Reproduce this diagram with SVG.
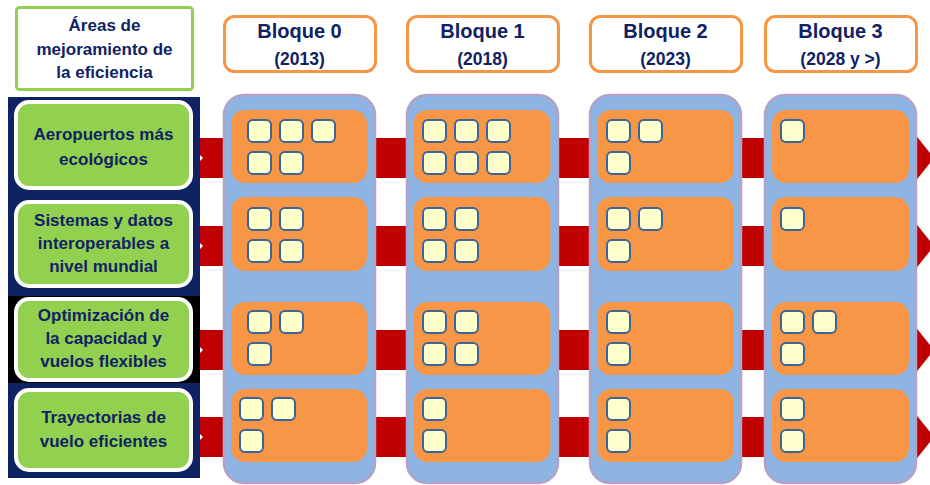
<svg xmlns="http://www.w3.org/2000/svg" xmlns:xlink="http://www.w3.org/1999/xlink" width="930" height="485" viewBox="0 0 930 485">
<style>
text{font-family:"Liberation Sans",Arial,sans-serif;font-weight:bold;fill:#112263;text-anchor:middle}
.lbl{font-size:17px}
.bh1{font-size:20px}
.bh2{font-size:17.5px}
.hdr{fill:#fff;stroke:#F79646;stroke-width:3}
.green{fill:#92D050;stroke:#fff;stroke-width:4}
.col{fill:#8EB4E3;stroke:#B3A2C7;stroke-width:2.5}
.cell{fill:#F79646}
.sq{fill:#FFFFCC;stroke:#3C6494;stroke-width:2}
.arrow{fill:#C00000}
</style>
<defs>
<rect id="sq" class="sq" width="23" height="22" rx="5"/>
</defs>
<rect width="930" height="485" fill="#fff"/>

<g id="connectors">
<polygon class="arrow" points="183,138 914,138 914,133 934,158 914,183 914,178 183,178 203,158"/>
<polygon class="arrow" points="183,226 914,226 914,221 934,246 914,271 914,266 183,266 203,246"/>
<polygon class="arrow" points="183,330 914,330 914,325 934,350 914,375 914,370 183,370 203,350"/>
<polygon class="arrow" points="183,417 914,417 914,412 934,437 914,462 914,457 183,457 203,437"/>
</g>

<g id="header-areas">
<rect x="16.5" y="7.5" width="176" height="82" rx="3" fill="#fff" stroke="#92D050" stroke-width="3"/>
<text class="lbl" x="104.5" y="31">Áreas de</text>
<text class="lbl" x="104.5" y="55">mejoramiento de</text>
<text class="lbl" x="104.5" y="78">la eficiencia</text>
</g>

<g id="left-panel">
<rect x="8" y="97" width="192" height="381" fill="#0F2263"/>
<rect x="8" y="296" width="192" height="87" fill="#000"/>
</g>

<g id="area-1">
<rect class="green" x="16" y="102" width="175" height="86" rx="13"/>
<text class="lbl" x="103.5" y="140">Aeropuertos más</text>
<text class="lbl" x="103.5" y="165">ecológicos</text>
</g>
<g id="area-2">
<rect class="green" x="16" y="202" width="175" height="84" rx="13"/>
<text class="lbl" x="103.5" y="226">Sistemas y datos</text>
<text class="lbl" x="103.5" y="249">interoperables a</text>
<text class="lbl" x="103.5" y="272">nivel mundial</text>
</g>
<g id="area-3">
<rect class="green" x="16" y="299" width="175" height="81" rx="13"/>
<text class="lbl" x="103.5" y="321">Optimización de</text>
<text class="lbl" x="103.5" y="344">la capacidad y</text>
<text class="lbl" x="103.5" y="367">vuelos flexibles</text>
</g>
<g id="area-4">
<rect class="green" x="16" y="390" width="175" height="80" rx="13"/>
<text class="lbl" x="103.5" y="423">Trayectorias de</text>
<text class="lbl" x="103.5" y="447">vuelo eficientes</text>
</g>

<g id="bloque-0-header">
<rect class="hdr" x="224.5" y="16.5" width="151" height="55" rx="10"/>
<text class="bh1" x="299.5" y="38">Bloque 0</text>
<text class="bh2" x="299.5" y="65">(2013)</text>
</g>
<g id="bloque-1-header">
<rect class="hdr" x="407.5" y="16.5" width="151" height="55" rx="10"/>
<text class="bh1" x="482.5" y="38">Bloque 1</text>
<text class="bh2" x="482.5" y="65">(2018)</text>
</g>
<g id="bloque-2-header">
<rect class="hdr" x="590.5" y="16.5" width="151" height="55" rx="10"/>
<text class="bh1" x="665.5" y="38">Bloque 2</text>
<text class="bh2" x="665.5" y="65">(2023)</text>
</g>
<g id="bloque-3-header">
<rect class="hdr" x="765.5" y="16.5" width="151" height="55" rx="10"/>
<text class="bh1" x="840.5" y="38">Bloque 3</text>
<text class="bh2" x="840.5" y="65">(2028 y &gt;)</text>
</g>

<g id="bloque-0">
<rect class="col" x="224" y="95" width="151" height="388" rx="20"/>
<rect class="cell" x="231" y="110" width="136" height="73" rx="14"/>
<rect class="cell" x="231" y="197" width="136" height="74" rx="14"/>
<rect class="cell" x="231" y="302" width="136" height="73" rx="14"/>
<rect class="cell" x="231" y="389" width="136" height="73" rx="14"/>
<use xlink:href="#sq" x="248" y="120"/><use xlink:href="#sq" x="280" y="120"/><use xlink:href="#sq" x="312" y="120"/>
<use xlink:href="#sq" x="248" y="152"/><use xlink:href="#sq" x="280" y="152"/>
<use xlink:href="#sq" x="248" y="208"/><use xlink:href="#sq" x="280" y="208"/>
<use xlink:href="#sq" x="248" y="240"/><use xlink:href="#sq" x="280" y="240"/>
<use xlink:href="#sq" x="248" y="311"/><use xlink:href="#sq" x="280" y="311"/>
<use xlink:href="#sq" x="248" y="343"/>
<use xlink:href="#sq" x="240" y="398"/><use xlink:href="#sq" x="272" y="398"/>
<use xlink:href="#sq" x="240" y="430"/>
</g>

<g id="bloque-1">
<rect class="col" x="407" y="95" width="151" height="388" rx="20"/>
<rect class="cell" x="413.5" y="110" width="137" height="73" rx="14"/>
<rect class="cell" x="413.5" y="197" width="137" height="74" rx="14"/>
<rect class="cell" x="413.5" y="302" width="137" height="73" rx="14"/>
<rect class="cell" x="413.5" y="389" width="137" height="73" rx="14"/>
<use xlink:href="#sq" x="423" y="120"/><use xlink:href="#sq" x="455" y="120"/><use xlink:href="#sq" x="487" y="120"/>
<use xlink:href="#sq" x="423" y="152"/><use xlink:href="#sq" x="455" y="152"/><use xlink:href="#sq" x="487" y="152"/>
<use xlink:href="#sq" x="423" y="208"/><use xlink:href="#sq" x="455" y="208"/>
<use xlink:href="#sq" x="423" y="240"/><use xlink:href="#sq" x="455" y="240"/>
<use xlink:href="#sq" x="423" y="311"/><use xlink:href="#sq" x="455" y="311"/>
<use xlink:href="#sq" x="423" y="343"/><use xlink:href="#sq" x="455" y="343"/>
<use xlink:href="#sq" x="423" y="398"/>
<use xlink:href="#sq" x="423" y="430"/>
</g>

<g id="bloque-2">
<rect class="col" x="590" y="95" width="151" height="388" rx="20"/>
<rect class="cell" x="597" y="110" width="137" height="73" rx="14"/>
<rect class="cell" x="597" y="197" width="137" height="74" rx="14"/>
<rect class="cell" x="597" y="302" width="137" height="73" rx="14"/>
<rect class="cell" x="597" y="389" width="137" height="73" rx="14"/>
<use xlink:href="#sq" x="607" y="120"/><use xlink:href="#sq" x="639" y="120"/>
<use xlink:href="#sq" x="607" y="152"/>
<use xlink:href="#sq" x="607" y="208"/><use xlink:href="#sq" x="639" y="208"/>
<use xlink:href="#sq" x="607" y="240"/>
<use xlink:href="#sq" x="607" y="311"/>
<use xlink:href="#sq" x="607" y="343"/>
<use xlink:href="#sq" x="607" y="398"/>
<use xlink:href="#sq" x="607" y="430"/>
</g>

<g id="bloque-3">
<rect class="col" x="765" y="95" width="151" height="388" rx="20"/>
<rect class="cell" x="772" y="110" width="137" height="73" rx="14"/>
<rect class="cell" x="772" y="197" width="137" height="74" rx="14"/>
<rect class="cell" x="772" y="302" width="137" height="73" rx="14"/>
<rect class="cell" x="772" y="389" width="137" height="73" rx="14"/>
<use xlink:href="#sq" x="781" y="120"/>
<use xlink:href="#sq" x="781" y="208"/>
<use xlink:href="#sq" x="781" y="311"/><use xlink:href="#sq" x="813" y="311"/>
<use xlink:href="#sq" x="781" y="343"/>
<use xlink:href="#sq" x="781" y="398"/>
<use xlink:href="#sq" x="781" y="430"/>
</g>
</svg>
